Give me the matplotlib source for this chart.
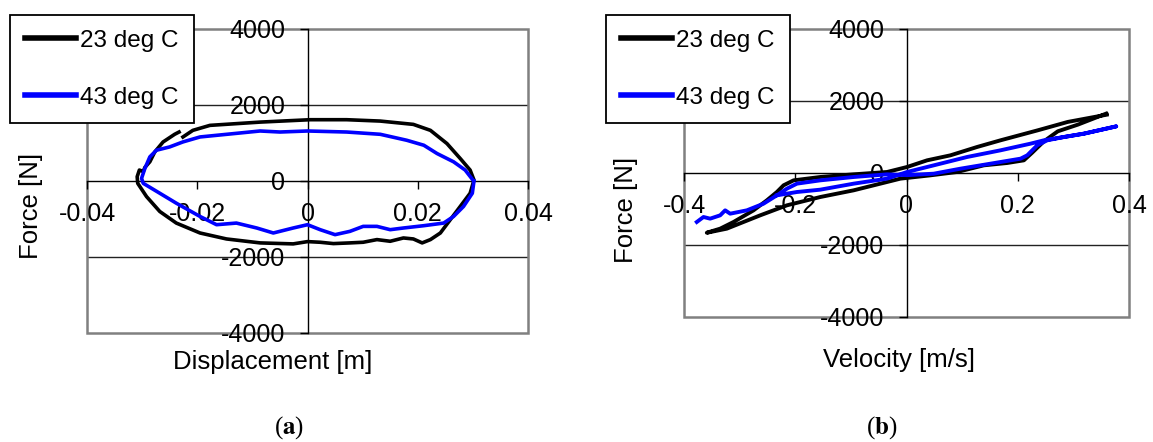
import matplotlib
matplotlib.use("Agg")
import matplotlib.pyplot as plt
from matplotlib.patches import Rectangle

plt.rcParams['font.family'] = ['Liberation Sans', 'DejaVu Sans']
plt.rcParams['mathtext.fontset'] = 'stix'

# (a) force vs displacement
disp_23 = [-0.0226, -0.0208, -0.0177, -0.0086, 0.0005, 0.0071, 0.0132, 0.0192, 0.0223, 0.0253,
           0.0277, 0.0295, 0.0302, 0.0295, 0.0277, 0.0259, 0.0241, 0.0223, 0.0208, 0.0192,
           0.0174, 0.0150, 0.0126, 0.0101, 0.0077, 0.0047, 0.0023, 0.0000, -0.0026, -0.0086,
           -0.0147, -0.0195, -0.0238, -0.0268, -0.0292, -0.0308, -0.0309, -0.0305, -0.0298,
           -0.0295, -0.0286, -0.0277, -0.0262, -0.0241, -0.0233]
force_23 = [1158, 1333, 1464, 1550, 1613, 1613, 1577, 1490, 1333, 985,
            593, 288, 26, -322, -671, -1019, -1368, -1542, -1629, -1525,
            -1499, -1586, -1542, -1612, -1629, -1647, -1612, -1595, -1655, -1629,
            -1525, -1368, -1107, -802, -410, -61, 113, 288, 250,
            358, 505, 766, 1027, 1229, 1289]

disp_43 = [0.0300, 0.0286, 0.0265, 0.0235, 0.0211, 0.0180, 0.0132, 0.0071, 0.0000, -0.0050,
           -0.0086, -0.0195, -0.0226, -0.0250, -0.0274, -0.0286, -0.0295, -0.0301, -0.0298,
           -0.0268, -0.0238, -0.0195, -0.0165, -0.0129, -0.0092, -0.0062, -0.0026, 0.0000,
           0.0023, 0.0050, 0.0077, 0.0101, 0.0126, 0.0150, 0.0174, 0.0211, 0.0247, 0.0265,
           0.0283, 0.0299, 0.0302]
force_43 = [26, 288, 505, 723, 941, 1072, 1229, 1289, 1316, 1289,
            1316, 1159, 1028, 897, 810, 635, 331, 70, -61,
            -322, -584, -933, -1150, -1107, -1237, -1368, -1237, -1150,
            -1281, -1412, -1325, -1194, -1194, -1281, -1237, -1176, -1107, -933,
            -671, -322, 0]

# (b) force vs velocity
vel_23 = [0.360, 0.290, 0.236, 0.169, 0.127, 0.079, 0.037, 0.001, -0.035, -0.095,
          -0.155, -0.203, -0.221, -0.233, -0.251, -0.275, -0.311, -0.335, -0.355, -0.359,
          -0.340, -0.323, -0.263, -0.215, -0.155, -0.095, -0.047, -0.011, 0.043, 0.091,
          0.139, 0.181, 0.211, 0.226, 0.247, 0.272, 0.308, 0.359]
vforce_23 = [1620, 1419, 1186, 908, 723, 491, 352, 167, 28, -37,
             -111, -204, -342, -528, -759, -1037, -1361, -1546, -1640, -1660,
             -1600, -1546, -1176, -898, -667, -481, -296, -157, -65, 28,
             213, 278, 352, 565, 880, 1158, 1343, 1650]

vel_43 = [-0.377, -0.365, -0.353, -0.335, -0.326, -0.317, -0.287, -0.257, -0.233, -0.215,
          -0.197, -0.155, -0.095, -0.035, 0.001, 0.049, 0.097, 0.151, 0.205, 0.217,
          0.235, 0.253, 0.283, 0.319, 0.377, 0.319, 0.283, 0.247, 0.223, 0.169,
          0.109, 0.049, 0.001, -0.035, -0.095, -0.155, -0.197, -0.233]
vforce_43 = [-1361, -1222, -1268, -1176, -1037, -1130, -1037, -852, -620, -435,
             -296, -204, -111, -37, -60, -19, 120, 259, 398, 491,
             769, 908, 1000, 1093, 1295, 1093, 1000, 908, 815, 630,
             445, 213, 28, -157, -296, -463, -528, -620]

labels = ['23 deg C', '43 deg C']
colors = ['#000000', '#0000FF']
force_ticks = [-4000, -2000, 0, 2000, 4000]
disp_ticks = [-0.04, -0.02, 0, 0.02, 0.04]
vel_ticks = [-0.4, -0.2, 0, 0.2, 0.4]

W, H = 1153, 442
fig = plt.figure(figsize=(W / 100, H / 100), dpi=100)


def style(ax, xt, xlim):
    ax.set_xlim(xlim)
    ax.set_ylim(-4000, 4000)
    ax.set_xticks(xt)
    ax.set_yticks(force_ticks)
    ax.set_xticklabels([('%g' % v) for v in xt])
    ax.set_yticklabels([('%g' % v) for v in force_ticks])
    for s in ['top', 'right']:
        ax.spines[s].set_visible(False)
    ax.spines['left'].set_position(('data', 0))
    ax.spines['bottom'].set_position(('data', 0))
    ax.spines['left'].set_linewidth(1)
    ax.spines['bottom'].set_linewidth(1)
    ax.tick_params(axis='both', direction='out', length=6, width=1, labelsize=18)
    ax.tick_params(axis='x', pad=9)
    ax.tick_params(axis='y', pad=10)
    for v in [-2000, 2000]:
        ax.axhline(v, color='#222222', lw=1, zorder=1)
    ax.add_patch(Rectangle((0, 0), 1, 1, transform=ax.transAxes, fill=False,
                           edgecolor='#808080', lw=1.8, clip_on=False, zorder=1))


# panel a
ax1 = fig.add_axes([87 / W, (H - 333) / H, 441 / W, 304 / H])
style(ax1, disp_ticks, (-0.04, 0.04))
l1, = ax1.plot(disp_23, force_23, color=colors[0], lw=2.6, zorder=3, solid_joinstyle='round')
l2, = ax1.plot(disp_43, force_43, color=colors[1], lw=2.6, zorder=4, solid_joinstyle='round')

# panel b
ax2 = fig.add_axes([684 / W, (H - 317) / H, 445 / W, 288 / H])
style(ax2, vel_ticks, (-0.4, 0.4))
ax2.plot(vel_23, vforce_23, color=colors[0], lw=2.8, zorder=3, solid_joinstyle='round')
ax2.plot(vel_43, vforce_43, color=colors[1], lw=2.8, zorder=4, solid_joinstyle='round')

leg_kw = dict(loc='upper left', fontsize=17.5, frameon=True, fancybox=False,
              edgecolor='black', framealpha=1, borderaxespad=0, borderpad=0.6,
              handlelength=2.1, handletextpad=0.2, labelspacing=1.45)
for x0 in [10, 606]:
    lg = fig.legend([l1, l2], labels, bbox_to_anchor=(x0 / W, 1 - 15 / H), **leg_kw)
    lg.get_frame().set_linewidth(1.3)
    lg.set_zorder(10)
    for h in lg.legend_handles:
        h.set_linewidth(4)

# axis titles
fig.text(31 / W, 1 - 206 / H, 'Force [N]', rotation=90, fontsize=18.5, ha='center', va='center')
fig.text(626 / W, 1 - 210 / H, 'Force [N]', rotation=90, fontsize=18.5, ha='center', va='center')
fig.text(273 / W, 1 - 362 / H, 'Displacement [m]', fontsize=18.5, ha='center', va='center')
fig.text(899 / W, 1 - 360 / H, 'Velocity [m/s]', fontsize=18.5, ha='center', va='center')

# panel letters
fig.text(289 / W, 1 - 428 / H, r'($\mathbf{a}$)', fontsize=18, ha='center', va='center',
         family='Liberation Serif')
fig.text(882 / W, 1 - 428 / H, r'($\mathbf{b}$)', fontsize=18, ha='center', va='center',
         family='Liberation Serif')

fig.savefig('out.png', dpi=100)
